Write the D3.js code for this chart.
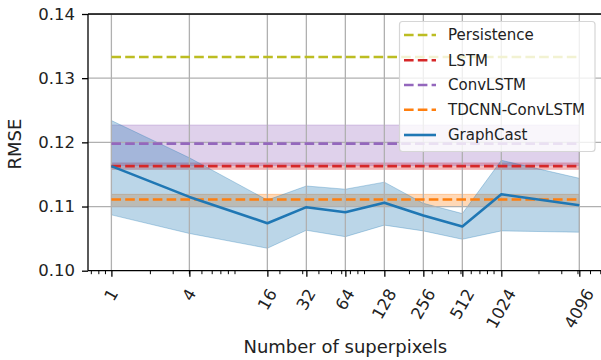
<!DOCTYPE html>
<html>
<head>
<meta charset="utf-8">
<script src="https://cdn.jsdelivr.net/npm/d3@7"></script>
<style>
  html, body { margin: 0; padding: 0; background: #fff; }
  svg { display: block; font-family: "DejaVu Sans", sans-serif; }
</style>
</head>
<body>
<svg id="chart" width="601" height="360"></svg>
<script>
// ---- Data ----
const superpixels = [1, 4, 16, 32, 64, 128, 256, 512, 1024, 4096];
const xTickLabels = ["1", "4", "16", "32", "64", "128", "256", "512", "1024", "4096"];
const graphcastMean  = [0.1163, 0.1115, 0.1074, 0.1099, 0.1091, 0.1106, 0.1086, 0.1069, 0.1119, 0.1102];
const graphcastUpper = [0.1234, 0.1176, 0.1110, 0.1132, 0.1127, 0.1138, 0.1105, 0.1089, 0.1172, 0.1144];
const graphcastLower = [0.1087, 0.1058, 0.1035, 0.1063, 0.1053, 0.1071, 0.1062, 0.1049, 0.1062, 0.1060];

const baselineNames = ["Persistence", "LSTM", "ConvLSTM", "TDCNN-ConvLSTM"];
const baselineMean  = [0.1333, 0.1163, 0.1198, 0.1111];
const baselineLower = [0.1333, 0.1158, 0.1164, 0.1100];
const baselineUpper = [0.1333, 0.1168, 0.1227, 0.1119];
const baselineColors = ["#bcbd22", "#d62728", "#9467bd", "#ff7f0e"];
const graphcastColor = "#1f77b4";

const yTicks = [0.10, 0.11, 0.12, 0.13, 0.14];

// ---- Layout ----
const svg = d3.select("#chart");
const plot = { left: 88, right: 602.7, top: 14, bottom: 270.7 };

const x = d3.scaleLog().base(2)
  .domain([Math.pow(2, -0.6), Math.pow(2, 12.6)])
  .range([plot.left, plot.right]);
const y = d3.scaleLinear().domain([0.10, 0.14]).range([plot.bottom, plot.top]);

const clipId = "plotclip";
svg.append("defs").append("clipPath").attr("id", clipId)
  .append("rect").attr("x", plot.left).attr("y", plot.top)
  .attr("width", plot.right - plot.left).attr("height", plot.bottom - plot.top);

const g = svg.append("g").attr("clip-path", `url(#${clipId})`);

const xMin = superpixels[0], xMax = superpixels[superpixels.length - 1];

// ---- Fills ----
baselineNames.forEach((name, i) => {
  if (baselineUpper[i] - baselineLower[i] <= 0) return;
  const area = d3.area().x(d => x(d)).y0(y(baselineLower[i])).y1(y(baselineUpper[i]));
  g.append("path").attr("d", area([xMin, xMax]))
    .attr("fill", baselineColors[i]).attr("fill-opacity", 0.3)
    .attr("stroke", baselineColors[i]).attr("stroke-opacity", 0.3).attr("stroke-width", 1);
});
const gcArea = d3.area()
  .x((d, i) => x(superpixels[i]))
  .y0((d, i) => y(graphcastLower[i]))
  .y1((d, i) => y(graphcastUpper[i]));
g.append("path").attr("d", gcArea(superpixels))
  .attr("fill", graphcastColor).attr("fill-opacity", 0.3)
  .attr("stroke", graphcastColor).attr("stroke-opacity", 0.3).attr("stroke-width", 1);

// ---- Grid ----
const gridColor = "#b0b0b0";
superpixels.forEach(v => {
  g.append("line").attr("x1", x(v)).attr("x2", x(v))
    .attr("y1", plot.top).attr("y2", plot.bottom)
    .attr("stroke", gridColor).attr("stroke-width", 1.3);
});
yTicks.forEach(v => {
  g.append("line").attr("x1", plot.left).attr("x2", plot.right)
    .attr("y1", y(v)).attr("y2", y(v))
    .attr("stroke", gridColor).attr("stroke-width", 1.3);
});

// ---- Lines ----
const dash = "9.6,4.2";
baselineNames.forEach((name, i) => {
  const line = d3.line().x(d => x(d)).y(() => y(baselineMean[i]));
  g.append("path").attr("d", line([xMin, xMax]))
    .attr("fill", "none").attr("stroke", baselineColors[i])
    .attr("stroke-width", 2.6).attr("stroke-dasharray", dash);
});
const gcLine = d3.line().x((d, i) => x(superpixels[i])).y((d, i) => y(graphcastMean[i]));
g.append("path").attr("d", gcLine(superpixels))
  .attr("fill", "none").attr("stroke", graphcastColor).attr("stroke-width", 2.6)
  .attr("stroke-linejoin", "round");

// ---- Axes ----
const tickFont = 16.5;
// y axis
const yAxis = d3.axisLeft(y).tickValues(yTicks).tickFormat(d3.format(".2f"))
  .tickSize(6).tickPadding(7);
const yg = svg.append("g").attr("transform", `translate(${plot.left},0)`).call(yAxis);
yg.select(".domain").remove();
yg.selectAll(".tick line").attr("stroke", "#000").attr("stroke-width", 1.3);
yg.selectAll(".tick text").attr("font-size", tickFont).attr("fill", "#222")
  .attr("font-family", "DejaVu Sans");

// x axis major ticks
const xg = svg.append("g").attr("transform", `translate(0,${plot.bottom})`);
const xAxis = d3.axisBottom(x).tickValues(superpixels).tickFormat((d, i) => xTickLabels[i])
  .tickSize(6);
xg.call(xAxis);
xg.select(".domain").remove();
xg.selectAll(".tick line").attr("stroke", "#000").attr("stroke-width", 1.3);
xg.selectAll(".tick text").remove();

// minor ticks (base-10 subs 2..9)
const minor = [];
for (let k = -1; k <= 3; k++) for (let s = 2; s <= 9; s++) {
  const v = s * Math.pow(10, k);
  const px = x(v);
  if (px >= plot.left && px <= plot.right) minor.push(v);
}
xg.selectAll(".minor").data(minor).enter().append("line")
  .attr("class", "minor")
  .attr("x1", d => x(d)).attr("x2", d => x(d))
  .attr("y1", 0).attr("y2", 3.5)
  .attr("stroke", "#000").attr("stroke-width", 1.0);

// rotated tick labels
const ang = 60 * Math.PI / 180;
superpixels.forEach((v, i) => {
  const t = svg.append("text")
    .attr("font-size", tickFont).attr("fill", "#222")
    .attr("text-anchor", "middle").attr("dominant-baseline", "central")
    .text(xTickLabels[i]);
  const w = t.node().getComputedTextLength();
  const capH = 0.73 * tickFont;
  const H = w * Math.sin(ang) + capH * Math.cos(ang);
  const cy = 287.5 + H / 2;
  t.attr("transform", `translate(${x(v)},${cy}) rotate(-60)`);
});

// spines
svg.append("line").attr("x1", plot.left).attr("x2", plot.left)
  .attr("y1", plot.top).attr("y2", plot.bottom).attr("stroke", "#000").attr("stroke-width", 1.3);
svg.append("line").attr("x1", plot.left).attr("x2", plot.right)
  .attr("y1", plot.bottom).attr("y2", plot.bottom).attr("stroke", "#000").attr("stroke-width", 1.3);
svg.append("line").attr("x1", plot.left).attr("x2", plot.right)
  .attr("y1", plot.top).attr("y2", plot.top).attr("stroke", "#000").attr("stroke-width", 1.3);
svg.append("line").attr("x1", plot.right).attr("x2", plot.right)
  .attr("y1", plot.top).attr("y2", plot.bottom).attr("stroke", "#000").attr("stroke-width", 1.3);

// axis labels
svg.append("text").attr("x", (plot.left + plot.right) / 2).attr("y", 353)
  .attr("text-anchor", "middle").attr("font-size", 18).attr("fill", "#222")
  .text("Number of superpixels");
svg.append("text").attr("transform", `translate(20.5,144) rotate(-90)`)
  .attr("text-anchor", "middle").attr("font-size", 18).attr("fill", "#222")
  .text("RMSE");

// ---- Legend ----
const legend = svg.append("g");
legend.append("rect").attr("x", 399.5).attr("y", 21.5).attr("width", 195.5).attr("height", 130)
  .attr("rx", 3).attr("fill", "#fff").attr("fill-opacity", 0.8)
  .attr("stroke", "#d6d6d6").attr("stroke-width", 1.2);
const legendNames = baselineNames.concat(["GraphCast"]);
const legendColors = baselineColors.concat([graphcastColor]);
const rowY = [35, 60.2, 85, 109.8, 135];
legendNames.forEach((name, i) => {
  const ry = rowY[i];
  legend.append("line").attr("x1", 404).attr("x2", 436).attr("y1", ry).attr("y2", ry)
    .attr("stroke", legendColors[i]).attr("stroke-width", 2.6)
    .attr("stroke-dasharray", i < 4 ? dash : null);
  legend.append("text").attr("x", 448).attr("y", ry + 5.4)
    .attr("font-size", 15).attr("fill", "#222").text(name);
});
</script>
</body>
</html>
